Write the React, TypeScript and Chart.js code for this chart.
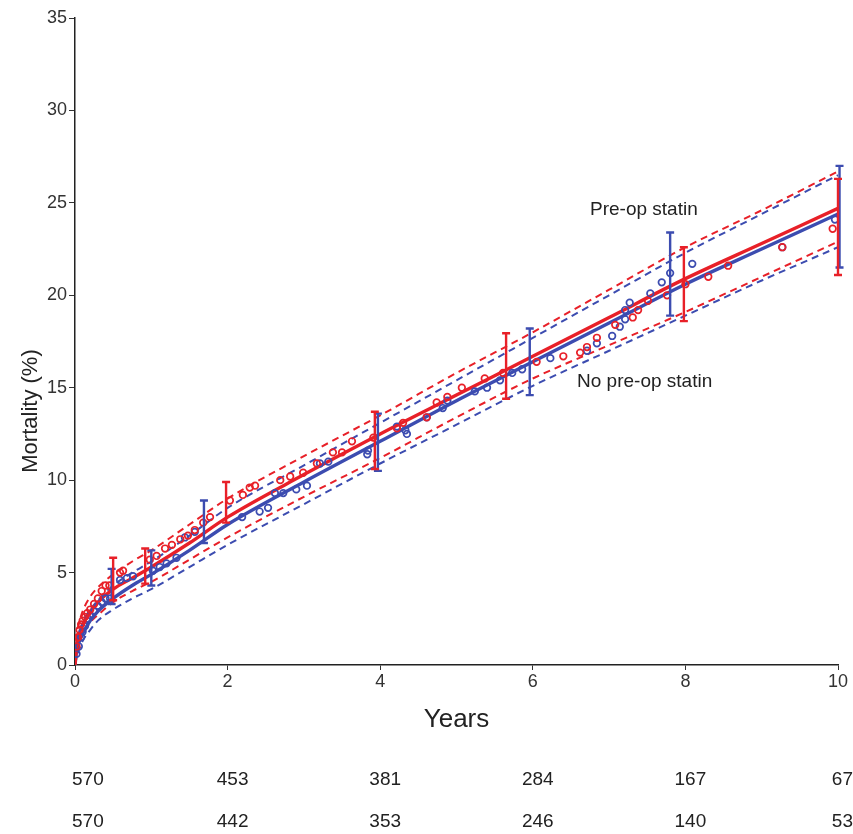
import React, { useEffect, useRef } from 'react';
import { Chart, registerables } from 'chart.js';

Chart.register(...registerables);

const RED = 'rgb(232,32,40)';
const BLUE = 'rgb(60,76,176)';
const FONT = '"Liberation Sans", Arial, Helvetica, sans-serif';

// Fitted curve sample times (years)
const fitTimes = [0, 0.02, 0.05, 0.1, 0.2, 0.3, 0.5, 0.75, 1, 1.5, 2, 3, 4, 5, 6, 7, 8, 9, 10];
// Pre-op statin (red)
const preFit = [0, 1.0, 1.6, 2.2, 2.9, 3.4, 4.1, 4.7, 5.3, 6.6, 8.0, 10.3, 12.5, 14.6, 16.7, 18.8, 20.9, 22.8, 24.7];
const preUpper = [0, 1.5, 2.2, 2.9, 3.7, 4.2, 4.9, 5.6, 6.2, 7.6, 9.0, 11.3, 13.5, 15.8, 18.0, 20.3, 22.6, 24.6, 26.7];
const preLower = [0, 0.6, 1.1, 1.6, 2.3, 2.7, 3.4, 4.0, 4.5, 5.7, 6.9, 9.1, 11.2, 13.4, 15.5, 17.3, 19.1, 21.0, 22.9];
// No pre-op statin (blue)
const noFit = [0, 0.7, 1.2, 1.7, 2.4, 2.9, 3.6, 4.3, 4.9, 6.2, 7.6, 9.9, 12.1, 14.3, 16.4, 18.5, 20.6, 22.5, 24.4];
const noUpper = [0, 1.0, 1.6, 2.3, 3.0, 3.5, 4.3, 5.0, 5.6, 7.0, 8.5, 10.8, 13.1, 15.4, 17.7, 20.0, 22.3, 24.4, 26.5];
const noLower = [0, 0.4, 0.8, 1.3, 1.9, 2.4, 3.0, 3.6, 4.1, 5.3, 6.5, 8.7, 10.9, 13.0, 15.1, 17.0, 18.9, 20.8, 22.6];

// Observed (nonparametric) estimates
const preObsX = [0.02, 0.04, 0.06, 0.08, 0.1, 0.13, 0.16, 0.2, 0.25, 0.3, 0.35, 0.4, 0.45, 0.59, 0.63, 0.98, 1.07, 1.18, 1.27, 1.38, 1.48, 1.57, 1.68, 1.77, 2.03, 2.2, 2.29, 2.36, 2.69, 2.82, 2.99, 3.17, 3.38, 3.5, 3.63, 3.91, 4.22, 4.3, 4.61, 4.74, 4.88, 5.07, 5.37, 5.61, 6.05, 6.4, 6.62, 6.71, 6.84, 7.08, 7.31, 7.38, 7.51, 7.76, 8.0, 8.3, 8.56, 9.27, 9.93];
const preObsY = [1.0, 1.5, 1.9, 2.2, 2.4, 2.6, 2.8, 3.0, 3.3, 3.6, 4.0, 4.3, 4.3, 5.0, 5.1, 5.7, 5.9, 6.3, 6.5, 6.8, 7.0, 7.3, 7.7, 8.0, 8.9, 9.2, 9.6, 9.7, 10.0, 10.2, 10.4, 10.9, 11.5, 11.5, 12.1, 12.3, 12.8, 13.1, 13.4, 14.2, 14.5, 15.0, 15.5, 15.8, 16.4, 16.7, 16.9, 17.2, 17.7, 18.4, 18.8, 19.2, 19.7, 20.0, 20.6, 21.0, 21.6, 22.6, 23.6];
const noObsX = [0.02, 0.05, 0.08, 0.1, 0.13, 0.17, 0.2, 0.25, 0.3, 0.35, 0.4, 0.46, 0.59, 0.68, 0.76, 1.02, 1.11, 1.2, 1.33, 1.44, 1.57, 2.19, 2.42, 2.53, 2.62, 2.73, 2.9, 3.04, 3.21, 3.32, 3.83, 3.84, 4.22, 4.33, 4.35, 4.61, 4.82, 4.88, 5.24, 5.4, 5.57, 5.73, 5.86, 6.23, 6.71, 6.84, 7.04, 7.14, 7.21, 7.21, 7.27, 7.54, 7.69, 7.8, 8.09, 9.27, 9.96];
const noObsY = [0.6, 1.0, 1.5, 1.8, 2.1, 2.5, 2.7, 2.9, 3.2, 3.4, 3.6, 3.6, 4.6, 4.7, 4.8, 5.1, 5.3, 5.5, 5.8, 6.9, 7.2, 8.0, 8.3, 8.5, 9.3, 9.3, 9.5, 9.7, 10.9, 11.0, 11.4, 11.6, 12.9, 12.7, 12.5, 13.4, 13.9, 14.3, 14.8, 15.0, 15.4, 15.8, 16.0, 16.6, 17.0, 17.4, 17.8, 18.3, 18.7, 19.2, 19.6, 20.1, 20.7, 21.2, 21.7, 22.6, 24.1];

// Confidence bars
const preErrX = [0.5, 0.92, 1.98, 3.93, 5.65, 7.98, 10.0];
const preErrLo = [3.5, 4.4, 7.7, 10.6, 14.4, 18.6, 21.1];
const preErrHi = [5.8, 6.3, 9.9, 13.7, 17.95, 22.6, 26.3];
const noErrX = [0.48, 1.0, 1.69, 3.97, 5.96, 7.8, 10.02];
const noErrLo = [3.3, 4.3, 6.6, 10.5, 14.6, 18.9, 21.5];
const noErrHi = [5.2, 6.2, 8.9, 13.6, 18.2, 23.4, 27.0];

// Numbers at risk
const riskTimes = [0, 2, 4, 6, 8, 10];
const riskPre = [570, 453, 381, 284, 167, 67];
const riskNo = [570, 442, 353, 246, 140, 53];

const xTicks = [0, 2, 4, 6, 8, 10];

const xy = (xs: number[], ys: number[]) => xs.map((x, i) => ({ x, y: ys[i] }));

const lineDs = (label: string, ys: number[], color: string, dashed: boolean, order: number) => ({
  type: 'line' as const,
  label,
  data: xy(fitTimes, ys),
  borderColor: color,
  backgroundColor: color,
  borderWidth: dashed ? 2 : 3.4,
  borderDash: dashed ? [7, 5] : [],
  pointRadius: 0,
  showLine: true,
  fill: false,
  tension: 0,
  cubicInterpolationMode: 'monotone' as const,
  order,
});

const overlay = {
  id: 'overlay',
  afterDatasetsDraw(chart: any) {
    const { ctx, scales, chartArea } = chart;
    const x = scales.x;
    const y = scales.y;
    ctx.save();
    const bars = (xs: number[], lo: number[], hi: number[], color: string) => {
      ctx.strokeStyle = color;
      ctx.lineWidth = 2.4;
      xs.forEach((t, i) => {
        const px = x.getPixelForValue(t);
        const p1 = y.getPixelForValue(lo[i]);
        const p2 = y.getPixelForValue(hi[i]);
        ctx.beginPath();
        ctx.moveTo(px, p1);
        ctx.lineTo(px, p2);
        ctx.moveTo(px - 4, p1);
        ctx.lineTo(px + 4, p1);
        ctx.moveTo(px - 4, p2);
        ctx.lineTo(px + 4, p2);
        ctx.stroke();
      });
    };
    bars(noErrX, noErrLo, noErrHi, BLUE);
    bars(preErrX, preErrLo, preErrHi, RED);

    ctx.fillStyle = '#222';
    ctx.font = `19px ${FONT}`;
    ctx.textAlign = 'left';
    ctx.textBaseline = 'middle';
    ctx.fillText('Pre-op statin', x.getPixelForValue(6.75), y.getPixelForValue(24.6));
    ctx.fillText('No pre-op statin', x.getPixelForValue(6.58), y.getPixelForValue(15.3));

    // y-axis title
    ctx.save();
    ctx.font = `22px ${FONT}`;
    ctx.textAlign = 'center';
    ctx.translate(31, chartArea.bottom - 254);
    ctx.rotate(-Math.PI / 2);
    ctx.fillText('Mortality (%)', 0, 0);
    ctx.restore();

    // numbers at risk
    ctx.font = `19px ${FONT}`;
    ctx.textAlign = 'center';
    const W = chart.width;
    const row = (vals: number[], py: number) => {
      vals.forEach((v, i) => {
        const s = String(v);
        const w = ctx.measureText(s).width;
        let cx = x.getPixelForValue(riskTimes[i]) + 5;
        cx = Math.max(cx, 72 + w / 2);
        cx = Math.min(cx, W - w / 2);
        ctx.fillText(s, cx, py);
      });
    };
    row(riskPre, chartArea.bottom + 115);
    row(riskNo, chartArea.bottom + 157);
    ctx.restore();
  },
};

export default function App() {
  const ref = useRef<HTMLCanvasElement | null>(null);
  useEffect(() => {
    if (!ref.current) return;
    const chart = new Chart(ref.current, {
      type: 'scatter',
      data: {
        datasets: [
          {
            type: 'scatter' as const,
            label: 'Pre-op statin observed',
            data: xy(preObsX, preObsY),
            borderColor: RED,
            backgroundColor: 'rgba(0,0,0,0)',
            pointRadius: 3.3,
            pointBorderWidth: 1.7,
            order: 1,
          },
          {
            type: 'scatter' as const,
            label: 'No pre-op statin observed',
            data: xy(noObsX, noObsY),
            borderColor: BLUE,
            backgroundColor: 'rgba(0,0,0,0)',
            pointRadius: 3.3,
            pointBorderWidth: 1.7,
            order: 2,
          },
          lineDs('Pre-op statin', preFit, RED, false, 3),
          lineDs('No pre-op statin', noFit, BLUE, false, 4),
          lineDs('Pre-op upper', preUpper, RED, true, 5),
          lineDs('Pre-op lower', preLower, RED, true, 6),
          lineDs('No pre-op upper', noUpper, BLUE, true, 7),
          lineDs('No pre-op lower', noLower, BLUE, true, 8),
        ] as any,
      },
      options: {
        animation: false,
        responsive: false,
        layout: { padding: { top: 18, right: 15, bottom: 99, left: 0 } },
        plugins: { legend: { display: false }, tooltip: { enabled: false } },
        scales: {
          x: {
            type: 'linear',
            min: 0,
            max: 10,
            afterBuildTicks: (s: any) => {
              s.ticks = xTicks.map((v) => ({ value: v }));
            },
            afterFit: (s: any) => {
              s.height = 70;
            },
            ticks: { color: '#333', font: { size: 18, family: FONT }, padding: 1, maxRotation: 0 },
            grid: { drawOnChartArea: false, drawTicks: true, tickLength: 5, color: '#333' },
            border: { display: true, color: '#222', width: 1.5 },
            title: {
              display: true,
              text: 'Years',
              color: '#222',
              font: { size: 26, family: FONT },
              padding: { top: 11, bottom: 0 },
            },
          },
          y: {
            type: 'linear',
            min: 0,
            max: 35,
            ticks: { stepSize: 5, color: '#333', font: { size: 18, family: FONT }, padding: 2 },
            afterFit: (s: any) => {
              s.width = 75;
            },
            grid: { drawOnChartArea: false, drawTicks: true, tickLength: 6, color: '#333' },
            border: { display: true, color: '#222', width: 1.5 },
          },
        },
      } as any,
      plugins: [overlay],
    });
    return () => chart.destroy();
  }, []);
  return (
    <div style={{ position: 'absolute', left: 0, top: 0, width: 853, height: 834, background: '#fff' }}>
      <canvas ref={ref} width={853} height={834} style={{ width: 853, height: 834, display: 'block' }} />
    </div>
  );
}
